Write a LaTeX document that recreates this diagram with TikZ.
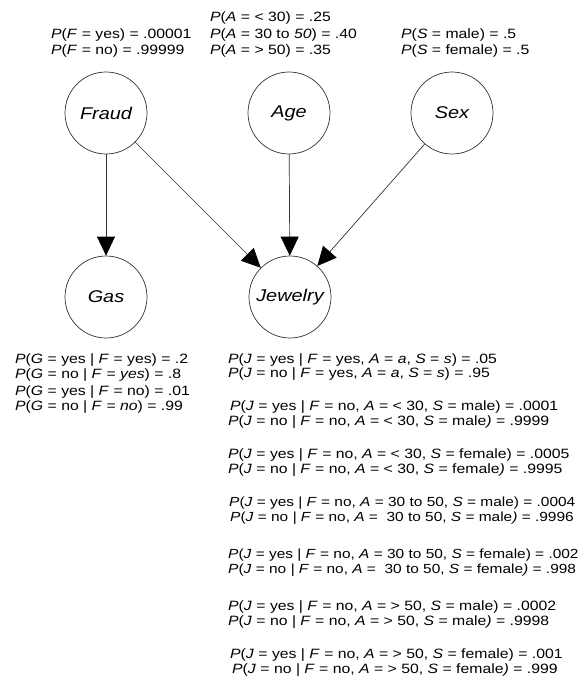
\documentclass[tikz,border=0pt]{standalone}
\usepackage{fontspec}
\setmainfont[FakeStretch=1.17]{Liberation Sans}
\usetikzlibrary{arrows.meta}
\tikzset{
  var/.style={circle,draw=black!80,line width=0.7pt,minimum size=82pt,inner sep=0pt,font=\fontsize{17}{20}\selectfont\itshape},
  edge/.style={draw=black!80,line width=0.7pt,-{Triangle[length=19pt,width=18pt,color=black]}},
  cpt/.style={anchor=base west,inner sep=0pt,font=\fontsize{13.5}{15}\selectfont},
  cptl/.style={cpt,font=\fontsize{13.2}{15}\selectfont}
}
\newcommand{\vi}[1]{\textit{#1}}
\begin{document}
\begin{tikzpicture}[x=1pt,y=-1pt]
\useasboundingbox (0,0) rectangle (584,687);
% nodes
\node[var] (fraud) at (106,113) {Fraud};
\node[var] (age) at (289,113) {Age};
\node[var] (sex) at (452,113) {Sex};
\node[var] (gas) at (106,297) {Gas};
\node[var] (jew) at (290,297) {Jewelry};
% edges
\draw[edge] (fraud) -- (gas);
\draw[edge] (fraud) -- (jew);
\draw[edge] (age) -- (jew);
\draw[edge] (sex) -- (jew);
% priors
\node[cpt] (pf1) at (51,39) {\vi{P}(\vi{F} = yes) = .00001};
\node[cpt] (pf2) at (51,55) {\vi{P}(\vi{F} = no) = .99999};
\node[cpt] (pa1) at (210,22) {\vi{P}(\vi{A} = < 30) = .25};
\node[cpt] (pa2) at (210,39) {\vi{P}(\vi{A} = 30 to \vi{50}) = .40};
\node[cpt] (pa3) at (210,55) {\vi{P}(\vi{A} = > 50) = .35};
\node[cpt] (ps1) at (401,39) {\vi{P}(\vi{S} = male) = .5};
\node[cpt] (ps2) at (401,55) {\vi{P}(\vi{S} = female) = .5};
% gas cpt
\node[cpt] (g1) at (15,363) {\vi{P}(\vi{G} = yes | \vi{F} = yes) = .2};
\node[cpt] (g2) at (15,378) {\vi{P}(\vi{G} = no | \vi{F} = \vi{yes}) = .8};
\node[cpt] (g3) at (15,395) {\vi{P}(\vi{G} = yes | \vi{F} = no) = .01};
\node[cpt] (g4) at (15,410) {\vi{P}(\vi{G} = no | \vi{F} = \vi{no}) = .99};
% jewelry cpt
\node[cpt] (j1) at (228,363) {\vi{P}(\vi{J} = yes | \vi{F} = yes, \vi{A} = \vi{a}, \vi{S} = \vi{s}) = .05};
\node[cpt] (j2) at (228,377) {\vi{P}(\vi{J} = no | \vi{F} = yes, \vi{A} = \vi{a}, \vi{S} = \vi{s}) = .95};
\node[cpt] (j3) at (230,410) {\vi{P}(\vi{J} = yes | \vi{F} = no, \vi{A} = < 30, \vi{S} = male) = .0001};
\node[cpt] (j4) at (228,425) {\vi{P}(\vi{J} = no \vi{|} \vi{F} = no, \vi{A} = < 30, \vi{S} = male\vi{)} = .9999};
\node[cpt] (j5) at (228,458) {\vi{P}(\vi{J} = yes | \vi{F} = no, \vi{A} = < 30, \vi{S} = female) = .0005};
\node[cpt] (j6) at (228,473) {\vi{P}(\vi{J} = no \vi{|} \vi{F} = no, \vi{A} = < 30, \vi{S} = female\vi{)} = .9995};
\node[cptl] (j7) at (229,506) {\vi{P}(\vi{J} = yes | \vi{F} = no, \vi{A} = 30 to 50, \vi{S} = male) = .0004};
\node[cptl] (j8) at (230,521) {\vi{P}(\vi{J} = no \vi{|} \vi{F} = no, \vi{A} = \ 30 to 50, \vi{S} = male\vi{)} = .9996};
\node[cptl] (j9) at (228,558) {\vi{P}(\vi{J} = yes | \vi{F} = no, \vi{A} = 30 to 50, \vi{S} = female) = .002};
\node[cptl] (j10) at (228,573) {\vi{P}(\vi{J} = no \vi{|} \vi{F} = no, \vi{A} = \ 30 to 50, \vi{S} = female\vi{)} = .998};
\node[cpt] (j11) at (228,610) {\vi{P}(\vi{J} = yes | \vi{F} = no, \vi{A} = > 50, \vi{S} = male) = .0002};
\node[cpt] (j12) at (228,625) {\vi{P}(\vi{J} = no \vi{|} \vi{F} = no, \vi{A} = > 50, \vi{S} = male\vi{)} = .9998};
\node[cpt] (j13) at (230,658) {\vi{P}(\vi{J} = yes | \vi{F} = no, \vi{A} = > 50, \vi{S} = female) = .001};
\node[cpt] (j14) at (232,673) {\vi{P}(\vi{J} = no \vi{|} \vi{F} = no, \vi{A} = > 50, \vi{S} = female\vi{)} = .999};
\end{tikzpicture}
\end{document}
